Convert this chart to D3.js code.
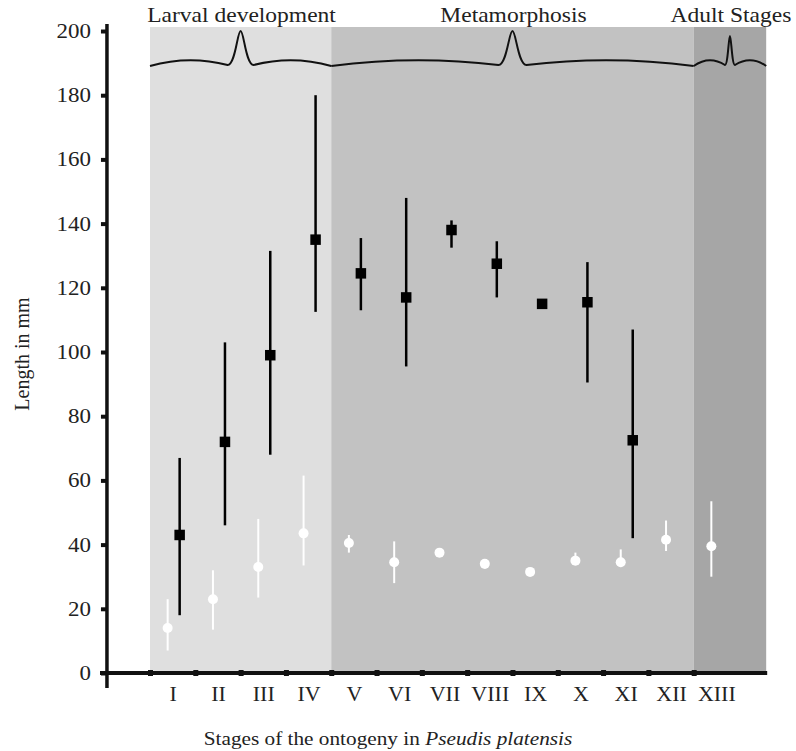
<!DOCTYPE html>
<html>
<head>
<meta charset="utf-8">
<script src="https://cdn.jsdelivr.net/npm/d3@7"></script>
<style>
  body { margin: 0; background: #fff; }
  text { font-family: "Liberation Serif", "Times New Roman", serif; fill: #222; }
  /* the original figure is a little wider than tall, so stretch the lettering */
  .wide { transform-box: fill-box; transform-origin: center; transform: scaleX(1.12); }
  .wide-right { transform-box: fill-box; transform-origin: right center; transform: scaleX(1.12); }
</style>
</head>
<body>
<div id="chart"></div>
<script>
// Define SVG area dimensions
var svgWidth = 796;
var svgHeight = 751;

// Stages of the ontogeny (x categories)
var stages = ["I", "II", "III", "IV", "V", "VI", "VII", "VIII", "IX", "X", "XI", "XII", "XIII"];

// Phases shaded in the background (start / end in stage units)
var phaseNames = ["Larval development", "Metamorphosis", "Adult Stages"];
var phaseStart = [0, 4, 12];
var phaseEnd = [4, 12, 13.6];
var phaseColors = ["#dfdfdf", "#c2c2c2", "#a6a6a6"];

// Black squares: total length (mean, min, max), stages I - XI
var totalMean = [43, 72, 99, 135, 124.5, 117, 138, 127.5, 115, 115.5, 72.5];
var totalLow  = [18, 46, 68, 112.5, 113, 95.5, 132.5, 117, 115, 90.5, 42];
var totalHigh = [67, 103, 131.5, 180, 135.5, 148, 141, 134.5, 115, 128, 107];

// White dots: body length (mean, min, max), stages I - XIII
var bodyMean = [14, 23, 33, 43.5, 40.5, 34.5, 37.5, 34, 31.5, 35, 34.5, 41.5, 39.5];
var bodyLow  = [7, 13.5, 23.5, 33.5, 37.5, 28, 37.5, 32.5, 31.5, 34, 33, 38, 30];
var bodyHigh = [23, 32, 48, 61.5, 43, 41, 37.5, 35, 31.5, 37.5, 38.5, 47.5, 53.5];

// Y axis ticks
var yTicks = [0, 20, 40, 60, 80, 100, 120, 140, 160, 180, 200];

var svg = d3.select("#chart")
  .append("svg")
  .attr("width", svgWidth)
  .attr("height", svgHeight);

// scales: x in stage units (0 = left edge of stage I)
var xScale = d3.scaleLinear().domain([0, 13]).range([150, 739]);
var yScale = d3.scaleLinear().domain([0, 200]).range([673, 31]);

var axisX = xScale(-0.95);
var bandTop = 27;

// background phases
svg.append("g").selectAll("rect")
  .data(phaseNames)
  .enter()
  .append("rect")
  .attr("x", (d, i) => xScale(phaseStart[i]))
  .attr("y", bandTop)
  .attr("width", (d, i) => xScale(phaseEnd[i]) - xScale(phaseStart[i]))
  .attr("height", yScale(0) - bandTop)
  .attr("fill", (d, i) => phaseColors[i]);

// curly braces on top of each phase
function bracePath(x0, x1, yb, yt, w) {
  var xp = (x0 + x1) / 2;
  var p = d3.path();
  p.moveTo(x0, yb);
  p.quadraticCurveTo((x0 + xp - w) / 2, yb - 11, xp - w, yb - 1);
  p.bezierCurveTo(xp - w * 0.4, yb - 1, xp - w * 0.25, yt, xp, yt);
  p.bezierCurveTo(xp + w * 0.25, yt, xp + w * 0.4, yb - 1, xp + w, yb - 1);
  p.quadraticCurveTo((x1 + xp + w) / 2, yb - 11, x1, yb);
  return p.toString();
}
var braceWidths = [13, 14, 5];
var braceTops = [31, 31, 36];

svg.append("g").selectAll("path")
  .data(phaseNames)
  .enter()
  .append("path")
  .attr("d", (d, i) => bracePath(xScale(phaseStart[i]), xScale(phaseEnd[i]), 66, braceTops[i], braceWidths[i]))
  .attr("fill", "none")
  .attr("stroke", "#111")
  .attr("stroke-width", 2);

svg.append("g").selectAll("text")
  .data(phaseNames)
  .enter()
  .append("text")
  .attr("class", "wide")
  .attr("x", (d, i) => (xScale(phaseStart[i]) + xScale(phaseEnd[i])) / 2 + 1)
  .attr("y", 22)
  .attr("text-anchor", "middle")
  .style("font-size", "21px")
  .text(d => d);

// axes
var leftAxis = d3.axisLeft(yScale).tickValues(yTicks).tickSize(6).tickPadding(10);
var yAxisG = svg.append("g")
  .attr("transform", `translate(${axisX}, 0)`)
  .call(leftAxis);
yAxisG.select(".domain").remove();
yAxisG.selectAll(".tick line").attr("stroke", "#111").attr("stroke-width", 4);
yAxisG.selectAll(".tick text")
  .attr("class", "wide-right")
  .style("font-size", "20.5px");

var boundaries = d3.range(0, 13);
var tickAxis = d3.axisBottom(xScale).tickValues(boundaries).tickSize(0).tickFormat("");
var xTickG = svg.append("g")
  .attr("transform", `translate(0, ${yScale(0)})`)
  .call(tickAxis);
xTickG.select(".domain").remove();
xTickG.selectAll(".tick line")
  .attr("y1", -3).attr("y2", 3)
  .attr("stroke", "#111")
  .attr("stroke-width", 5);

var labelAxis = d3.axisBottom(xScale)
  .tickValues(stages.map((d, i) => i + 0.5))
  .tickFormat((d, i) => stages[i])
  .tickSize(0)
  .tickPadding(12);
var xLabelG = svg.append("g")
  .attr("transform", `translate(0, ${yScale(0)})`)
  .call(labelAxis);
xLabelG.select(".domain").remove();
xLabelG.selectAll(".tick text").style("font-size", "22px");

// axis lines
svg.append("line")
  .attr("x1", axisX).attr("x2", axisX)
  .attr("y1", 24).attr("y2", 688)
  .attr("stroke", "#111").attr("stroke-width", 3.5);
svg.append("line")
  .attr("x1", 100).attr("x2", xScale(13.6) + 1)
  .attr("y1", yScale(0)).attr("y2", yScale(0))
  .attr("stroke", "#111").attr("stroke-width", 4);

// body length: white dots with white bars
var bodyG = svg.append("g");
bodyG.selectAll("line")
  .data(bodyMean)
  .enter()
  .append("line")
  .attr("x1", (d, i) => xScale(i + 0.5) - 5)
  .attr("x2", (d, i) => xScale(i + 0.5) - 5)
  .attr("y1", (d, i) => yScale(bodyLow[i]))
  .attr("y2", (d, i) => yScale(bodyHigh[i]))
  .attr("stroke", "#fff")
  .attr("stroke-width", 2);
bodyG.selectAll("circle")
  .data(bodyMean)
  .enter()
  .append("circle")
  .attr("cx", (d, i) => xScale(i + 0.5) - 5)
  .attr("cy", d => yScale(d))
  .attr("r", 5)
  .attr("fill", "#fff");

// total length: black squares with black bars
var sq = 10.5;
var totalG = svg.append("g");
totalG.selectAll("line")
  .data(totalMean)
  .enter()
  .append("line")
  .attr("x1", (d, i) => xScale(i + 0.5) + 7)
  .attr("x2", (d, i) => xScale(i + 0.5) + 7)
  .attr("y1", (d, i) => yScale(totalLow[i]))
  .attr("y2", (d, i) => yScale(totalHigh[i]))
  .attr("stroke", "#000")
  .attr("stroke-width", 2.5);
totalG.selectAll("rect")
  .data(totalMean)
  .enter()
  .append("rect")
  .attr("x", (d, i) => xScale(i + 0.5) + 7 - sq / 2)
  .attr("y", d => yScale(d) - sq / 2)
  .attr("width", sq)
  .attr("height", sq)
  .attr("fill", "#000");

// axis titles
svg.append("text")
  .attr("transform", "rotate(-90)")
  .attr("x", -354)
  .attr("y", 29)
  .attr("text-anchor", "middle")
  .style("font-size", "20px")
  .text("Length in mm");

var xTitle = svg.append("text")
  .attr("class", "wide")
  .attr("x", 388)
  .attr("y", 745)
  .attr("text-anchor", "middle")
  .style("font-size", "19px");
xTitle.append("tspan").text("Stages of the ontogeny in ");
xTitle.append("tspan").style("font-style", "italic").text("Pseudis platensis");
</script>
</body>
</html>
